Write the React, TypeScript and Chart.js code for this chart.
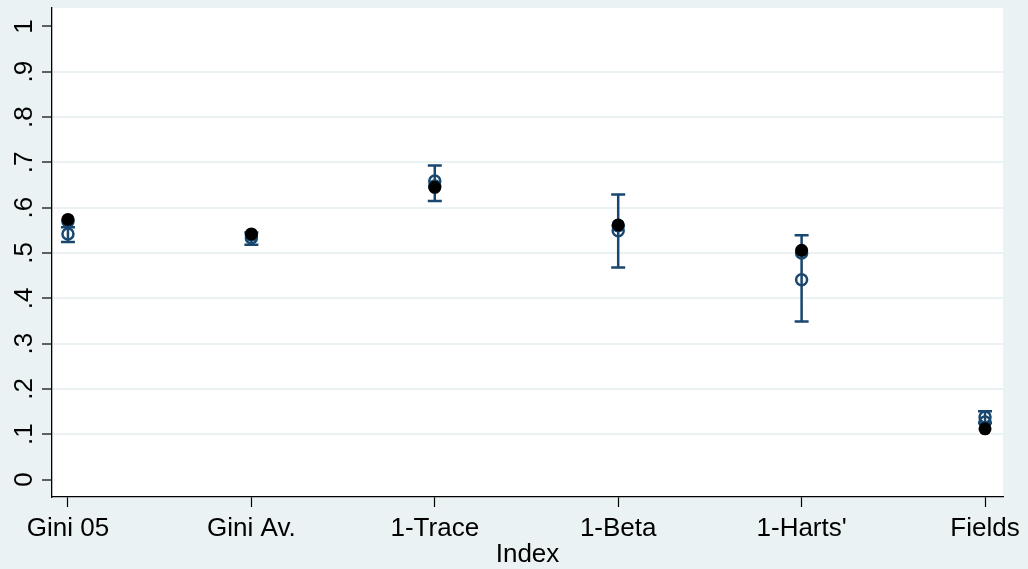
import React, { useEffect, useRef } from "react";
import { Chart, registerables } from "chart.js";

Chart.register(...registerables);

const categories = ["Gini 05", "Gini Av.", "1-Trace", "1-Beta", "1-Harts'", "Fields"];
const solidValues = [0.574, 0.542, 0.645, 0.562, 0.506, 0.112];
const hollowValues = [0.542, 0.533, 0.659, 0.549, 0.441, 0.138];
const hollowAltValues = [0.57, 0.54, 0.648, 0.56, 0.5, 0.127];
const ciLow = [0.524, 0.518, 0.615, 0.468, 0.349, 0.125];
const ciHigh = [0.557, 0.545, 0.693, 0.629, 0.539, 0.151];
const yTickValues = [0, 0.1, 0.2, 0.3, 0.4, 0.5, 0.6, 0.7, 0.8, 0.9, 1];
const yTickLabels = ["0", ".1", ".2", ".3", ".4", ".5", ".6", ".7", ".8", ".9", "1"];
const xTitle = "Index";

const NAVY = "#1a476f";
const BG = "#eaf2f3";
const FONT = "Liberation Sans, Arial, Helvetica, sans-serif";

export default function App() {
  const ref = useRef<HTMLCanvasElement>(null);

  useEffect(() => {
    const canvas = ref.current;
    if (!canvas) return;

    const bgPlugin = {
      id: "bgPlugin",
      beforeDraw(chart: any) {
        const { ctx, chartArea } = chart;
        ctx.save();
        ctx.fillStyle = BG;
        ctx.fillRect(0, 0, chart.width, chart.height);
        ctx.fillStyle = "#ffffff";
        ctx.fillRect(chartArea.left, chartArea.top, chartArea.right - chartArea.left, chartArea.bottom - chartArea.top);
        ctx.restore();
      },
    };

    const errPlugin = {
      id: "errPlugin",
      beforeDatasetsDraw(chart: any) {
        const { ctx } = chart;
        const xs = chart.scales.x;
        const ys = chart.scales.y;
        ctx.save();
        ctx.strokeStyle = NAVY;
        ctx.lineWidth = 2.5;
        categories.forEach((_, i) => {
          const x = xs.getPixelForValue(i);
          const y1 = ys.getPixelForValue(ciLow[i]);
          const y2 = ys.getPixelForValue(ciHigh[i]);
          ctx.beginPath();
          ctx.moveTo(x, y1);
          ctx.lineTo(x, y2);
          ctx.moveTo(x - 7, y1);
          ctx.lineTo(x + 7, y1);
          ctx.moveTo(x - 7, y2);
          ctx.lineTo(x + 7, y2);
          ctx.stroke();
        });
        ctx.restore();
      },
    };

    const labelPlugin = {
      id: "labelPlugin",
      afterDraw(chart: any) {
        const { ctx, chartArea } = chart;
        const ys = chart.scales.y;
        ctx.save();
        ctx.fillStyle = "#000";
        ctx.font = `26px ${FONT}`;
        yTickValues.forEach((v, i) => {
          const y = ys.getPixelForValue(v);
          ctx.save();
          ctx.translate(32, y);
          ctx.rotate(-Math.PI / 2);
          ctx.textAlign = "center";
          ctx.textBaseline = "alphabetic";
          ctx.fillText(yTickLabels[i], 0, 0);
          ctx.restore();
        });
        ctx.textAlign = "center";
        ctx.textBaseline = "alphabetic";
        ctx.fillText(xTitle, (chartArea.left + chartArea.right) / 2, 562);
        ctx.restore();
      },
    };

    const chart = new Chart(canvas, {
      type: "scatter",
      data: {
        datasets: [
          {
            label: "solid",
            data: solidValues.map((v, i) => ({ x: i, y: v })),
            pointStyle: "circle",
            pointRadius: 6.5,
            pointBackgroundColor: "#000",
            pointBorderColor: "#000",
            pointBorderWidth: 0,
            order: 0,
          },
          {
            label: "hollow",
            data: hollowValues.map((v, i) => ({ x: i, y: v })),
            pointStyle: "circle",
            pointRadius: 5.5,
            pointBackgroundColor: "rgba(0,0,0,0)",
            pointBorderColor: NAVY,
            pointBorderWidth: 2.5,
            order: 1,
          },
          {
            label: "hollow2",
            data: hollowAltValues.map((v, i) => ({ x: i, y: v })),
            pointStyle: "circle",
            pointRadius: 5.5,
            pointBackgroundColor: "rgba(0,0,0,0)",
            pointBorderColor: NAVY,
            pointBorderWidth: 2.5,
            order: 2,
          },
        ],
      },
      options: {
        responsive: false,
        animation: false,
        events: [],
        layout: { padding: { left: 0, top: 6, right: 25, bottom: 0 } },
        plugins: { legend: { display: false }, tooltip: { enabled: false } },
        scales: {
          x: {
            type: "linear",
            min: -0.087,
            max: 5.098,
            afterBuildTicks: (s: any) => {
              s.ticks = categories.map((_, i) => ({ value: i }));
            },
            afterFit: (s: any) => {
              s.height = 72;
            },
            ticks: {
              autoSkip: false,
              maxRotation: 0,
              minRotation: 0,
              padding: 6,
              color: "#000",
              font: { family: FONT, size: 26 },
              callback: (v: any) => categories[Math.round(Number(v))] ?? "",
            },
            grid: {
              drawOnChartArea: false,
              drawTicks: true,
              tickLength: 10,
              tickColor: "#000",
              tickWidth: 1.2,
            },
            border: { display: true, color: "#000", width: 1.3 },
          },
          y: {
            type: "linear",
            min: -0.0385,
            max: 1.0407,
            afterBuildTicks: (s: any) => {
              s.ticks = yTickValues.map((v) => ({ value: v }));
            },
            afterFit: (s: any) => {
              s.width = 52;
            },
            ticks: { display: false },
            grid: {
              drawOnChartArea: true,
              drawTicks: true,
              tickLength: 10,
              tickColor: "#000",
              tickWidth: 1.2,
              lineWidth: 2,
              color: (c: any) => {
                const v = c.tick ? c.tick.value : 0.5;
                return v < 0.05 || v > 0.95 ? "rgba(0,0,0,0)" : BG;
              },
            },
            border: { display: true, color: "#000", width: 1.3 },
          },
        },
      },
      plugins: [bgPlugin, errPlugin, labelPlugin],
    });

    return () => chart.destroy();
  }, []);

  return (
    <div style={{ position: "fixed", left: 0, top: 0, width: 1028, height: 569, background: BG }}>
      <canvas ref={ref} width={1028} height={569} style={{ display: "block" }} />
    </div>
  );
}
